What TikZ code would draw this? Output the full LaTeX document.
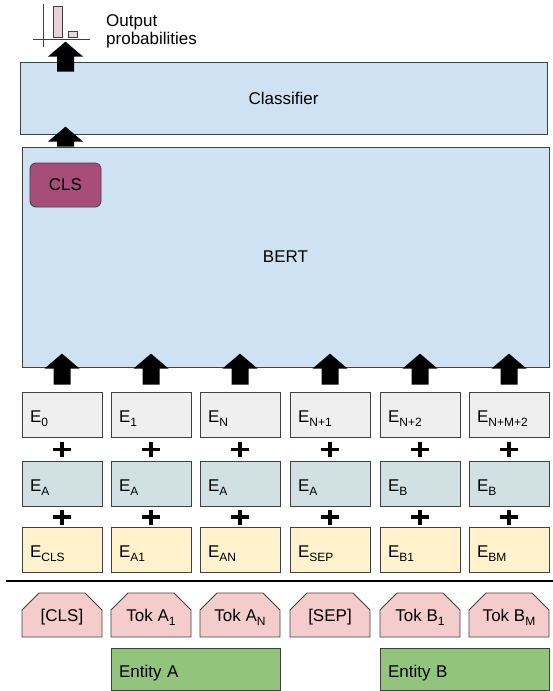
\documentclass[tikz,border=0pt]{standalone}
\usepackage{fontspec}
\setmainfont{Liberation Sans}
\usetikzlibrary{calc,shapes.misc}
\definecolor{bertblue}{HTML}{CFE2F3}
\definecolor{clsred}{HTML}{A64D79}
\definecolor{posgray}{HTML}{EFEFEF}
\definecolor{seggray}{HTML}{D0E0E3}
\definecolor{tokyel}{HTML}{FFF2CC}
\definecolor{tokpink}{HTML}{F4CCCC}
\definecolor{entgreen}{HTML}{93C47D}
\definecolor{barpink}{HTML}{EAD1DC}
\definecolor{edge}{HTML}{404040}
\newcommand{\lo}[1]{\raisebox{-4pt}{\fontsize{12}{12}\selectfont #1}}
\def\fatarrow(#1)(#2)(#3){\fill[shift={(#1)}] (-8.5,#2+#3) -- (-8.5,#2+15) -- (-17.5,#2+15) -- (0,#2) -- (17.5,#2+15) -- (8.5,#2+15) -- (8.5,#2+#3) -- cycle;}
\def\plusmark(#1)(#2){\draw[plus] ($(#1.south)!0.5!(#2.north)$) +(-9,0) -- +(9,0) +(0,-7.5) -- +(0,7.5);}

\begin{document}
\begin{tikzpicture}[x=1pt,y=-1pt,font=\fontsize{17}{17.5}\selectfont,
    bigbox/.style={draw=edge,line width=0.8pt,fill=bertblue,inner sep=0pt},
    clsbox/.style={draw=edge,line width=0.8pt,fill=clsred,rounded corners=6pt,minimum width=71,minimum height=44},
    emb/.style={draw=edge,line width=0.8pt,minimum width=80,minimum height=45,text width=64pt,inner xsep=8pt,align=left,text height=17pt,text depth=2pt},
    tok/.style={draw=edge,line width=0.8pt,fill=tokpink,chamfered rectangle,chamfered rectangle corners={north west,north east},chamfered rectangle xsep=9pt,chamfered rectangle ysep=9pt,minimum width=80,minimum height=44,inner sep=0pt,text height=14pt,text depth=2pt},
    ent/.style={draw=edge,line width=0.8pt,fill=entgreen,minimum width=169,minimum height=42,text width=153pt,inner xsep=8pt,align=left,text height=17pt,text depth=1pt},
    plus/.style={line width=3.5pt}]
		\useasboundingbox (0,0) rectangle (553,691);
		%%%%% TOP %%%%%
		\draw[edge,line width=0.8pt] (43,4) -- (43,47);
		\draw[edge,line width=0.8pt] (33,39) -- (90,39);
		\draw[edge,fill=barpink,line width=0.8pt] (53,6) rectangle (62,37);
		\draw[edge,fill=barpink,line width=0.8pt] (68,31) rectangle (77,37);
		\node[anchor=north west,inner sep=0pt,align=left] (outtxt) at (106,14.5) {Output\\probabilities};
		
		\node[bigbox,minimum width=527,minimum height=72] (clf) at (283.5,98) {Classifier};
		\node[bigbox,minimum width=527,minimum height=220] (bert) at (285.5,257) {BERT};
		\node[clsbox] (cls) at (65.5,185) {CLS};
		
		\fatarrow(cls.north |- clf.north)(-20)(30)
		\fatarrow(cls.north)(-36)(20)
		
		%%%%% EMBEDDINGS %%%%%
		\node[emb,fill=posgray] (p0) at (62,414.5) {E\lo{0}};
		\node[emb,fill=posgray] (p1) at (151,414.5) {E\lo{1}};
		\node[emb,fill=posgray] (p2) at (240,414.5) {E\lo{N}};
		\node[emb,fill=posgray] (p3) at (330,414.5) {E\lo{N+1}};
		\node[emb,fill=posgray] (p4) at (420,414.5) {E\lo{N+2}};
		\node[emb,fill=posgray] (p5) at (509,414.5) {E\lo{N+M+2}};
		
		\node[emb,fill=seggray] (s0) at (62,484) {E\lo{A}};
		\node[emb,fill=seggray] (s1) at (151,484) {E\lo{A}};
		\node[emb,fill=seggray] (s2) at (240,484) {E\lo{A}};
		\node[emb,fill=seggray] (s3) at (330,484) {E\lo{A}};
		\node[emb,fill=seggray] (s4) at (420,484) {E\lo{B}};
		\node[emb,fill=seggray] (s5) at (509,484) {E\lo{B}};
		
		\node[emb,fill=tokyel] (w0) at (62,550) {E\lo{CLS}};
		\node[emb,fill=tokyel] (w1) at (151,550) {E\lo{A1}};
		\node[emb,fill=tokyel] (w2) at (240,550) {E\lo{AN}};
		\node[emb,fill=tokyel] (w3) at (330,550) {E\lo{SEP}};
		\node[emb,fill=tokyel] (w4) at (420,550) {E\lo{B1}};
		\node[emb,fill=tokyel] (w5) at (509,550) {E\lo{BM}};
		
		\fatarrow(p0.north)(-38)(31)
		\fatarrow(p1.north)(-38)(31)
		\fatarrow(p2.north)(-38)(31)
		\fatarrow(p3.north)(-38)(31)
		\fatarrow(p4.north)(-38)(31)
		\fatarrow(p5.north)(-38)(31)
		
		\plusmark(p0)(s0) \plusmark(p1)(s1) \plusmark(p2)(s2)
		\plusmark(p3)(s3) \plusmark(p4)(s4) \plusmark(p5)(s5)
		\plusmark(s0)(w0) \plusmark(s1)(w1) \plusmark(s2)(w2)
		\plusmark(s3)(w3) \plusmark(s4)(w4) \plusmark(s5)(w5)
		
		\draw[line width=2.5pt] (6,581) -- (553,581);
		
		%%%%% INPUT %%%%%
		\node[tok] (t0) at (62,615) {[CLS]};
		\node[tok] (t1) at (151,615) {Tok A\lo{1}};
		\node[tok] (t2) at (240,615) {Tok A\lo{N}};
		\node[tok] (t3) at (330,615) {[SEP]};
		\node[tok] (t4) at (420,615) {Tok B\lo{1}};
		\node[tok] (t5) at (509,615) {Tok B\lo{M}};
		
		\node[ent] (enta) at (195.5,669) {Entity A};
		\node[ent] (entb) at (464.5,669) {Entity B};
	\end{tikzpicture}
\end{document}
